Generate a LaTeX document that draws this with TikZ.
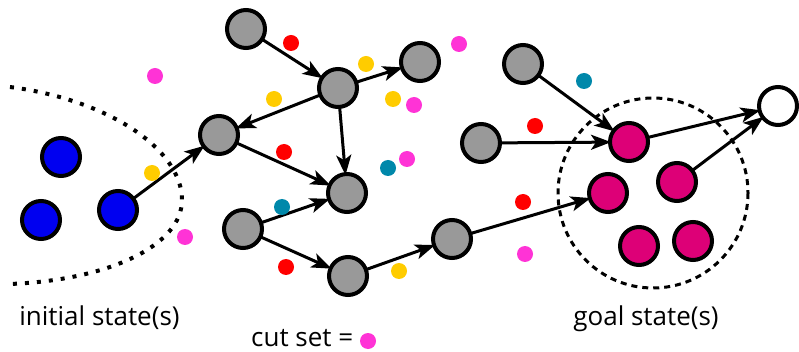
\documentclass[tikz,border=0pt]{standalone}
\usepackage{fontspec}
\setmainfont{Open Sans}
\usetikzlibrary{arrows.meta}
\definecolor{stblue}{HTML}{0000F0}
\definecolor{stgray}{HTML}{999999}
\definecolor{stgoal}{HTML}{DD0077}
\definecolor{cutred}{HTML}{FF0000}
\definecolor{cutyellow}{HTML}{FFCC00}
\definecolor{cutpink}{HTML}{FF33D6}
\definecolor{cutteal}{HTML}{0088AA}
\tikzset{
  state/.style={circle, draw=black, line width=4pt, minimum size=38pt, inner sep=0pt, outer sep=0pt},
  initstate/.style={state, fill=stblue},
  midstate/.style={state, fill=stgray},
  goalstate/.style={state, fill=stgoal},
  finalstate/.style={state, fill=white},
  cutdot/.style={circle, minimum size=16pt, inner sep=0pt},
  trans/.style={line width=3pt, shorten >=-1pt, -{Stealth[length=20pt,width=15pt,inset=5pt]}},
  lbl/.style={font=\fontsize{26}{30}\selectfont, inner sep=0pt, anchor=base}
}
\begin{document}
\begin{tikzpicture}[x=1pt, y=-1pt]
\useasboundingbox (0,0) rectangle (799,352);

% boundary of the initial region and the goal region
\draw[line width=4pt, dash pattern=on 4pt off 8pt]
  (10,87) .. controls (110,100) and (182,150) .. (182,200)
          .. controls (182,245) and (110,280) .. (10,284);
\draw[line width=3pt, dash pattern=on 6pt off 5pt] (653,193) circle (95);

% initial states
\node[initstate] (i1) at (61,157) {};
\node[initstate] (i2) at (41,220) {};
\node[initstate] (i3) at (118,210) {};

% intermediate states
\node[midstate] (a) at (246,29) {};
\node[midstate] (b) at (338,88) {};
\node[midstate] (c) at (420,62) {};
\node[midstate] (d) at (219,135) {};
\node[midstate] (e) at (347,193) {};
\node[midstate] (f) at (243,229) {};
\node[midstate] (g) at (348,276) {};
\node[midstate] (h) at (452,239) {};
\node[midstate] (p) at (523,64) {};
\node[midstate] (q) at (481,143) {};

% goal states
\node[goalstate] (k) at (629,142) {};
\node[goalstate] (l) at (608,193) {};
\node[goalstate] (m) at (677,182) {};
\node[goalstate] (n) at (639,246) {};
\node[goalstate] (o) at (693,241) {};
\node[finalstate] (z) at (778,106) {};

% transitions
\draw[trans] (i3) -- (d);
\draw[trans] (a) -- (b);
\draw[trans] (b) -- (c);
\draw[trans] (b) -- (d);
\draw[trans] (b) -- (e);
\draw[trans] (d) -- (e);
\draw[trans] (f) -- (e);
\draw[trans] (f) -- (g);
\draw[trans] (g) -- (h);
\draw[trans] (h) -- (l);
\draw[trans] (p) -- (k);
\draw[trans] (q) -- (k);
\draw[trans] (k) -- (z);
\draw[trans] (m) -- (z);

% actions
\node[cutdot, fill=cutred] (r1) at (291,43) {};
\node[cutdot, fill=cutred] (r2) at (284,152) {};
\node[cutdot, fill=cutred] (r3) at (286,267) {};
\node[cutdot, fill=cutred] (r4) at (535,126) {};
\node[cutdot, fill=cutred] (r5) at (523,202) {};
\node[cutdot, fill=cutyellow] (y1) at (366,64) {};
\node[cutdot, fill=cutyellow] (y2) at (274,99) {};
\node[cutdot, fill=cutyellow] (y3) at (393,99) {};
\node[cutdot, fill=cutyellow] (y4) at (152,173) {};
\node[cutdot, fill=cutyellow] (y5) at (399,271) {};
\node[cutdot, fill=cutteal] (t1) at (388,168) {};
\node[cutdot, fill=cutteal] (t2) at (282,207) {};
\node[cutdot, fill=cutteal] (t3) at (584,81) {};
\node[cutdot, fill=cutpink] (m1) at (155,76) {};
\node[cutdot, fill=cutpink] (m2) at (185,237) {};
\node[cutdot, fill=cutpink] (m3) at (459,44) {};
\node[cutdot, fill=cutpink] (m4) at (414,105) {};
\node[cutdot, fill=cutpink] (m5) at (407,159) {};
\node[cutdot, fill=cutpink] (m6) at (525,254) {};

% labels
\node[lbl] (initlbl) at (99.5,325) {initial state(s)};
\node[lbl] (goallbl) at (646,325) {goal state(s)};
\node[lbl, anchor=base west] (cutlbl) at (251,346) {cut set =};
\node[cutdot, fill=cutpink] (cutkey) at (368,341) {};
\end{tikzpicture}
\end{document}
